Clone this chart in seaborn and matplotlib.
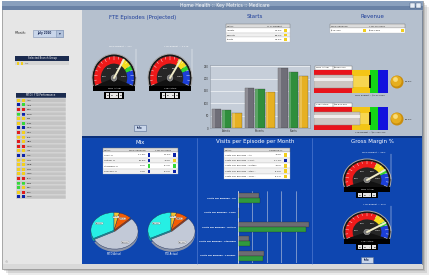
"""
Home Health key metrics dashboard (Medicare)
"""

import numpy as np
import pandas as pd
import matplotlib
matplotlib.use("Agg")
import matplotlib.pyplot as plt
from matplotlib.patches import Rectangle, Wedge, Circle, Arc
import seaborn as sns

# ---------------------------------------------------------------------
# DATA
# ---------------------------------------------------------------------
dashboard_title = "Home Health :: Key Metrics :: Medicare"
month_value = "July 2010"

branch_codes = ["AKS", "ANB", "BAK", "BCW", "CHJ", "CLW", "COG", "DAV", "ELP", "HEN", "HOU",
                "ICN", "LEV", "LMS", "MVB", "NLR", "OMS", "PLU", "SCM", "SGL", "TEX", "WHE"]
branch_mtd = ["Y", "B", "R", "G", "Y", "Y", "B", "R", "Y", "R", "R",
              "Y", "B", "Y", "Y", "Y", "Y", "R", "G", "G", "Y", "B"]
branch_ytd = ["Y", "G", "R", "B", "Y", "G", "B", "Y", "Y", "Y", "R",
              "Y", "B", "Y", "Y", "Y", "Y", "R", "G", "Y", "R", "B"]

fte_gauge_pct = [91, 92]
fte_budget_text = ["MTD Budget = 471", "YTD Budget = 3,178"]
fte_actual_label = ["MTD Actual", "YTD Actual"]
fte_actual_digits = ["0429", "2924"]

starts_metrics = ["Admits", "Recerts", "Starts"]
starts_pct_budget = ["93.4%", "95.7%", "94.2%"]
starts_series = ["Budget", "Actual", "Prior Year"]
starts_budget = [76, 163, 241]
starts_actual = [71, 156, 227]
starts_prior = [60, 147, 210]

revenue_mtd_variance = "-$79,420"
revenue_ytd_variance = "-$331,382"
revenue_label = ["MTD Actual", "YTD Actual"]
revenue_actual_text = ["$2,592,273", "$16,872,091"]
revenue_budget_text = ["MTD Budget = $2,671,693", "YTD Budget = $17,203,473"]
revenue_pct_text = ["99.3%", "98.1%"]
revenue_band_edges = [0.52, 0.75, 0.87, 1.0]
revenue_actual_pos = [0.53, 0.62]
revenue_target_pos = 0.75

mix_metrics = ["LUPA %", "Outlier %", "Standard %", "Therapy %"]
mix_mtd_var = ["-17.3%", "10.0%", "0.0%", "3.4%"]
mix_ytd_var = ["17.4%", "-4.4%", "-3.7%", "-0.0%"]
mix_mtd_flag = ["B", "B", "G", "B"]
mix_ytd_flag = ["B", "Y", "G", "B"]
mix_slices = ["Therapy", "Standard", "Outlier", "LUPA"]
mix_mtd = [32.6, 54.6, 9.1, 3.7]
mix_ytd = [32.4, 55.1, 8.8, 3.7]

visits_metrics = ["Visits per Episode - All", "Visits per Episode - LUPA",
                  "Visits per Episode - Outlier", "Visits per Episode - Standard",
                  "Visits per Episode - Therapy"]
visits_table_names = ["Visits per Episode - All", "Visits per Episode - LUPA",
                      "Visits per Episode - Outlier", "Visits per Episode - Stan...",
                      "Visits per Episode - Ther..."]
visits_variance = ["-4.4%", "-17.1%", "-4.9%", "-5.5%", "-2.1%"]
visits_flag = ["Y", "B", "Y", "Y", "Y"]
visits_budget = [7.3, 0.4, 24.8, 3.8, 8.9]
visits_actual = [7.5, 0.3, 23.5, 4.2, 8.6]

gm_gauge_pct = [101, 102]
gm_budget_text = ["MTD Budget = 30%", "YTD Budget = 30%"]
gm_actual_label = ["MTD Actual", "YTD Actual"]
gm_actual_digits = ["30.4", "30.6"]

# ---------------------------------------------------------------------
# STYLE
# ---------------------------------------------------------------------
sns.set_theme(style="white")
plt.rcParams["font.family"] = ["DejaVu Sans"]

W, H = 438, 277
FLAG = {"Y": "#f2cf1d", "B": "#0b22a8", "G": "#37d83b", "R": "#e01b1b"}
STARTS_COLORS = ["#6f6e78", "#2f8e3c", "#e6b022"]
VISITS_COLORS = ["#6c6c72", "#2f9a3e"]
PIE_COLORS = ["#26efe4", "#c2c9d7", "#f25c05", "#f4c430"]
PIE_SHADOW = ["#149c98", "#8b94a8", "#a83d08", "#a8820f"]
BAND_COLORS = ["#e8141b", "#f3c516", "#14d516", "#1212de"]
TOP_BG = "#b5c0ce"
BOT_BG = "#0e46b0"
NAVY = "#1b2b4f"


def px(x, y, w, h):
    return [x / W, 1 - (y + h) / H, w / W, h / H]


fig = plt.figure(figsize=(W / 100, H / 100), dpi=100)
fig.patch.set_facecolor("white")
bg = fig.add_axes([0, 0, 1, 1])
bg.set_xlim(0, W)
bg.set_ylim(H, 0)
bg.axis("off")

# --- window frame, shadow, panels ---
for off, a in [(6, 0.15), (4, 0.2), (2, 0.25)]:
    bg.add_patch(Rectangle((2 + off, 1 + off), 421, 268, fc="#7a7a7a", alpha=a, lw=0))
bg.add_patch(Rectangle((2, 1), 421, 268, fc="#d9d9d9", ec="#8c8c8c", lw=0.5))
bg.add_patch(Rectangle((2, 1), 421, 5, fc="#8aa0bd", lw=0))
bg.add_patch(Rectangle((2, 5.5), 421, 4.5, fc="#6a82a5", lw=0))
bg.text(225, 5.5, dashboard_title, color="white", fontsize=3.3, ha="center", va="center")
for bx in [410, 416]:
    bg.add_patch(Rectangle((bx, 3), 4.5, 4.5, fc="#e8eef6", ec="#40577a", lw=0.3))
bg.add_patch(Rectangle((3, 10), 79, 254, fc="#e6e6e6", lw=0))
bg.add_patch(Rectangle((82, 10), 340, 127, fc=TOP_BG, lw=0))
bg.add_patch(Rectangle((82, 137), 340, 127, fc=BOT_BG, lw=0))
bg.add_patch(Rectangle((82, 135.5), 340, 2, fc="#0a2f7a", lw=0))
for sx in [197, 312]:
    bg.plot([sx, sx], [138, 264], color="#5f86d6", lw=0.4)
bg.plot([422, 422], [10, 264], color="#6a7a90", lw=0.6)
bg.text(6, 262, "\u00a9", color="#777777", fontsize=2.5, ha="center", va="center")

# --- left panel ---
bg.text(15, 33, "*Month:", fontsize=2.2, color="#222222", ha="left", va="center")
bg.add_patch(Rectangle((33, 29.5), 30, 7, fc="#c9d6ea", ec="#7f93b3", lw=0.4))
bg.add_patch(Rectangle((56, 29.5), 7, 7, fc="#b3c3dc", ec="#7f93b3", lw=0.4))
bg.text(44, 33, month_value, fontsize=2.0, color="#1a2a55", fontweight="bold", ha="center", va="center")
bg.text(59.5, 33, "\u25be", fontsize=2.6, color="#1a2a55", ha="center", va="center")

bg.add_patch(Rectangle((15, 56), 54, 5, fc=NAVY, lw=0))
bg.text(42, 58.5, "Selected Branch Group", fontsize=1.8, color="white", ha="center", va="center")
bg.add_patch(Rectangle((15, 61), 54, 4.2, fc="#d6d6d6", lw=0))
bg.add_patch(Rectangle((16.5, 61.8), 2.8, 2.8, fc=FLAG["Y"], lw=0))
bg.add_patch(Rectangle((20.5, 61.8), 2.8, 2.8, fc=FLAG["Y"], lw=0))
bg.text(25, 63.2, "ALL", fontsize=1.7, color="#222222", ha="left", va="center")

bg.add_patch(Rectangle((16, 93), 50, 5, fc=NAVY, lw=0))
bg.text(41, 95.5, "MTD / YTD Performance", fontsize=1.8, color="white", ha="center", va="center")
row_h = 4.6
for i, (code, m, y_) in enumerate(zip(branch_codes, branch_mtd, branch_ytd)):
    yy = 98 + i * row_h
    bg.add_patch(Rectangle((16, yy), 50, row_h, fc="#c4c4c4", ec="#eeeeee", lw=0.3))
    bg.add_patch(Rectangle((17, yy + 0.8), 3, 3, fc=FLAG[m], lw=0))
    bg.add_patch(Rectangle((21.5, yy + 0.8), 3, 3, fc=FLAG[y_], lw=0))
    bg.text(27, yy + row_h / 2, code, fontsize=1.7, color="#222222", ha="left", va="center")


# --- table helper ---
def draw_table(x, y, w, header, rows, flags, text_cols, flag_cols, head_h=4.2, rh=4.6, fs=1.7):
    bg.add_patch(Rectangle((x, y), w, head_h, fc="#dcdcdc", ec="#6f6f6f", lw=0.3))
    for text, (xo, ha) in zip(header, text_cols):
        bg.text(x + xo, y + head_h / 2, text, fontsize=fs, ha=ha, va="center", color="#222222")
    for i, row in enumerate(rows):
        yy = y + head_h + i * rh
        bg.add_patch(Rectangle((x, yy), w, rh, fc="white" if i % 2 == 0 else "#f0f0f0",
                               ec="#b5b5b5", lw=0.2))
        for text, (xo, ha) in zip(row, text_cols):
            bg.text(x + xo, yy + rh / 2, text, fontsize=fs, ha=ha, va="center", color="#222222")
        for f, xo in zip(flags[i], flag_cols):
            bg.add_patch(Rectangle((x + xo, yy + 0.9), 2.8, rh - 1.8, fc=FLAG[f], lw=0))


# --- panel titles ---
bg.text(143, 17, "FTE Episodes (Projected)", fontsize=4, color="#1f3f9a", ha="center", va="center")
bg.text(255, 17, "Starts", fontsize=4, color="#1f3f9a", ha="center", va="center")
bg.text(372, 17, "Revenue", fontsize=4, color="#1f3f9a", ha="center", va="center")
bg.text(140, 142, "Mix", fontsize=4, color="white", ha="center", va="center")
bg.text(255, 142, "Visits per Episode per Month", fontsize=4, color="white", ha="center", va="center")
bg.text(372, 142, "Gross Margin %", fontsize=4, color="white", ha="center", va="center")

# --- tables ---
draw_table(226, 24, 64, ["Metric", "% of Budget"],
           [[m, p] for m, p in zip(starts_metrics, starts_pct_budget)],
           [["Y"]] * 3, [(1, "left"), (56, "right")], [58])
draw_table(330, 24, 75, ["MTD Variance", "YTD Variance"],
           [[revenue_mtd_variance, revenue_ytd_variance]],
           [["Y", "Y"]], [(1, "left"), (39, "left")], [33, 71])
draw_table(103, 148, 75, ["Metric", "MTD Variance", "YTD Variance"],
           [[a, b, c] for a, b, c in zip(mix_metrics, mix_mtd_var, mix_ytd_var)],
           [[a, b] for a, b in zip(mix_mtd_flag, mix_ytd_flag)],
           [(1, "left"), (43, "right"), (68, "right")], [44.5, 70], rh=5.5)
draw_table(224, 148, 66, ["Metric", "Variance %"],
           [[a, b] for a, b in zip(visits_table_names, visits_variance)],
           [[f] for f in visits_flag], [(1, "left"), (58, "right")], [60], rh=5.4)


# --- gauges ---
def val_to_ang(v):
    return 200 - (v - 40) / 80 * 220


def draw_gauge(cx, cy, rx_px, ry_px, pct, budget_text, actual_label, digits):
    lx, rx, ty, by = 1.35, 1.35, 1.5, 1.0
    ax = fig.add_axes(px(cx - lx * rx_px, cy - ty * ry_px, (lx + rx) * rx_px, (ty + by) * ry_px))
    ax.set_xlim(-lx, rx)
    ax.set_ylim(-by, ty)
    ax.axis("off")
    s, c = np.sin(np.radians(20)), np.cos(np.radians(20))
    ax.add_patch(Wedge((0, 0), 1.0, -20, 200, fc="#121212", lw=0))
    ax.add_patch(Rectangle((-c, -s), 2 * c, s, fc="#121212", lw=0))
    ax.add_patch(Arc((0, 0), 2, 2, theta1=-20, theta2=200, color="#a9a9a9", lw=0.7))
    ax.add_patch(Wedge((0, 0), 0.93, -20, 200, fc="#262626", lw=0))
    for lo, hi, col in [(40, 90, "#ee1a1a"), (90, 100, "#f5dc1e"), (100, 105, "#2fd42f"), (105, 120, "#1c3fd8")]:
        ax.add_patch(Wedge((0, 0), 0.9, val_to_ang(hi), val_to_ang(lo), width=0.3, fc=col, lw=0))
    for v in range(40, 121, 5):
        a = np.radians(val_to_ang(v))
        r0 = 0.76 if v % 10 == 0 else 0.8
        ax.plot([r0 * np.cos(a), 0.9 * np.cos(a)], [r0 * np.sin(a), 0.9 * np.sin(a)],
                color="white", lw=0.3)
    for v in [50, 70, 90, 110]:
        a = np.radians(val_to_ang(v))
        ax.text(0.45 * np.cos(a), 0.45 * np.sin(a), f"{v}%", color="white", fontsize=1.6,
                ha="center", va="center")
    a = np.radians(val_to_ang(pct))
    ax.plot([0, 0.88 * np.cos(a)], [0, 0.88 * np.sin(a)], color="#f1ecc9", lw=1.4,
            solid_capstyle="round")
    ax.add_patch(Circle((0, 0), 0.13, fc="#7a7a7a", ec="#bbbbbb", lw=0.3))
    ax.add_patch(Rectangle((-c, -s - 0.22), 2 * c, 0.22, fc="black", lw=0))
    ax.text(0, -s - 0.11, actual_label, color="white", fontsize=1.6, ha="center", va="center")
    n, dw = len(digits), 0.2
    x0 = -n * dw / 2
    ax.add_patch(Rectangle((x0 - 0.05, -s - 0.52), n * dw + 0.1, 0.28, fc="black", lw=0))
    for i, d in enumerate(digits):
        ax.add_patch(Rectangle((x0 + i * dw + 0.02, -s - 0.49), dw - 0.04, 0.22, fc="#e6e6e6", lw=0))
        ax.text(x0 + i * dw + dw / 2, -s - 0.38, d, fontsize=1.7, ha="center", va="center",
                color="black", fontweight="bold")
    ax.text(0.3, 1.33, budget_text, color="white", fontsize=1.7, ha="center", va="center")
    ax.plot([1.0, 1.0], [1.22, 0.05], color="white", lw=0.3)


for i, cx in enumerate([114, 170]):
    draw_gauge(cx, 78, 22, 24, fte_gauge_pct[i], fte_budget_text[i], fte_actual_label[i],
               fte_actual_digits[i])
for i, cy in enumerate([180, 232]):
    draw_gauge(367, cy, 24, 21, gm_gauge_pct[i], gm_budget_text[i], gm_actual_label[i],
               gm_actual_digits[i])


def info_button(x, y):
    bg.add_patch(Rectangle((x - 6, y - 3), 12, 6, fc="#c9d6ea", ec="#5a6f95", lw=0.4))
    bg.text(x, y, "Info", fontsize=1.8, color="#1a2a55", ha="center", va="center", fontweight="bold")


info_button(140, 128)
info_button(367, 260)

# --- Starts grouped bars ---
starts_df = pd.DataFrame({
    "Metric": starts_metrics * 3,
    "Series": [s for s in starts_series for _ in starts_metrics],
    "Count": starts_budget + starts_actual + starts_prior,
})
ax = fig.add_axes(px(210, 65, 100, 63))
sns.barplot(data=starts_df, x="Metric", y="Count", hue="Series", palette=STARTS_COLORS,
            saturation=1, width=0.92, gap=0.08, edgecolor="#333333", linewidth=0.2,
            legend=False, ax=ax)
for p in list(ax.patches):
    ax.add_patch(Rectangle((p.get_x(), 0), p.get_width() * 0.3, p.get_height(),
                           fc="white", alpha=0.22, lw=0))
ax.set_ylim(0, 255)
ax.set_yticks([0, 50, 100, 150, 200, 250])
ax.set_facecolor("#c6ced9")
ax.grid(axis="y", color="white", lw=0.4)
ax.set_axisbelow(True)
ax.set_xlabel("")
ax.set_ylabel("")
ax.tick_params(labelsize=1.9, colors="#333333", length=0, pad=1)
for sp in ax.spines.values():
    sp.set_color("#8c95a2")
    sp.set_linewidth(0.4)

# --- Revenue bullets ---
for i, y0 in enumerate([70, 107]):
    ax = fig.add_axes(px(314, y0, 74, 23))
    ax.set_xlim(0, 1)
    ax.set_ylim(0, 1)
    ax.axis("off")
    lefts = [0] + revenue_band_edges[:-1]
    widths = np.diff([0] + revenue_band_edges)
    ax.barh(0.5, widths, left=lefts, height=1, color=BAND_COLORS, edgecolor="none")
    ax.barh(0.5, widths[1], left=lefts[1], height=0.5, color="#f9e37a", alpha=0.6, edgecolor="none")
    ax.barh(0.5, revenue_actual_pos[i], height=0.56, color="#cdc6c2", edgecolor="#8a8582", lw=0.3)
    ax.barh(0.6, revenue_actual_pos[i], height=0.14, color="white", alpha=0.7, edgecolor="none")
    ax.vlines(revenue_target_pos, 0.22, 0.78, color="black", lw=1.2)
    bg.add_patch(Rectangle((315, y0 - 4.5), 37, 4.5, fc="white", ec="#666666", lw=0.3))
    bg.plot([333, 333], [y0 - 4.5, y0], color="#666666", lw=0.3)
    bg.text(316, y0 - 2.2, revenue_label[i], fontsize=1.6, color="#222222", ha="left", va="center")
    bg.text(334, y0 - 2.2, revenue_actual_text[i], fontsize=1.6, color="#222222", ha="left", va="center")
    bg.text(370, y0 + 26, revenue_budget_text[i], fontsize=1.6, color="#222222", ha="center", va="center")
    cy = y0 + 12
    bg.add_patch(Circle((397, cy), 6.5, fc="#c98d0d", lw=0))
    bg.add_patch(Circle((396.3, cy - 0.8), 5.3, fc="#e6ae1f", lw=0))
    bg.add_patch(Circle((395.5, cy - 2.5), 2.4, fc="#f8dc7a", lw=0))
    bg.text(405, cy, revenue_pct_text[i], fontsize=1.7, color="#222222", ha="left", va="center")

# --- Mix pies ---
explode = [0, 0.07, 0, 0]
for x0, vals, lab in [(89, mix_mtd, "MTD Actual"), (146, mix_ytd, "YTD Actual")]:
    ax = fig.add_axes(px(x0, 211, 50, 41))
    ax.pie(vals, colors=PIE_SHADOW, startangle=90, explode=explode, center=(0, -0.15),
           wedgeprops=dict(lw=0))
    _, _, autotexts = ax.pie(vals, colors=PIE_COLORS, startangle=90, explode=explode,
                             autopct="%.1f%%", pctdistance=0.75,
                             wedgeprops=dict(edgecolor="#1f2f5a", lw=0.3),
                             textprops=dict(fontsize=1.5, color="#111111"))
    for t in autotexts:
        t.set_bbox(dict(boxstyle="round,pad=0.25", fc="white", ec="#555555", lw=0.2, alpha=0.85))
    ax.set_aspect("auto")
    ax.set_xlim(-1.08, 1.08)
    ax.set_ylim(-1.22, 1.08)
    bg.text(x0 + 25, 254, lab, fontsize=1.8, color="white", ha="center", va="center")

# --- Visits per episode horizontal bars ---
visits_df = pd.DataFrame({
    "Metric": visits_metrics * 2,
    "Series": ["Budget"] * len(visits_metrics) + ["Actual"] * len(visits_metrics),
    "Visits": visits_budget + visits_actual,
})
ax = fig.add_axes(px(238, 191, 72, 72))
sns.barplot(data=visits_df, y="Metric", x="Visits", hue="Series", orient="h",
            palette=VISITS_COLORS, saturation=1, width=0.7, edgecolor="#222222",
            linewidth=0.2, legend=False, ax=ax)
ax.set_xlim(0, 25)
ax.set_xticks([0, 5, 10, 15, 20, 25])
ax.set_xticklabels([])
ax.set_facecolor("none")
ax.grid(axis="x", color="#c8d0e0", lw=0.4)
ax.set_axisbelow(True)
ax.set_xlabel("")
ax.set_ylabel("")
ax.tick_params(axis="y", labelsize=1.6, colors="white", length=0, pad=1.5)
for lbl in ax.get_yticklabels():
    lbl.set_fontweight("bold")
ax.tick_params(axis="x", length=0)
for sp in ["top", "right", "bottom"]:
    ax.spines[sp].set_visible(False)
ax.spines["left"].set_color("white")
ax.spines["left"].set_linewidth(0.4)

plt.savefig("out.png", dpi=100, facecolor=fig.get_facecolor())
